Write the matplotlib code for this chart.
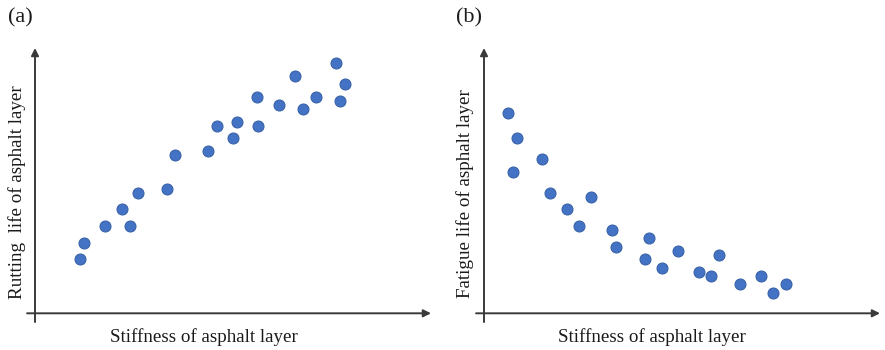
import matplotlib
matplotlib.use("Agg")
import matplotlib.pyplot as plt

# Panel (a): rutting life vs stiffness (arbitrary units)
rut_x = [1.14, 1.24, 1.77, 2.19, 2.40, 2.60, 3.33, 3.54, 4.37, 4.59, 5.01,
         5.11, 5.61, 5.62, 6.15, 6.56, 6.77, 7.09, 7.61, 7.82, 7.71]
rut_y = [2.04, 2.66, 3.29, 3.92, 3.29, 4.55, 4.70, 5.97, 6.12, 7.07, 6.61,
         7.22, 8.16, 7.07, 7.85, 8.96, 7.70, 8.16, 9.43, 8.64, 8.01]

# Panel (b): fatigue life vs stiffness (arbitrary units)
fat_x = [0.61, 0.83, 0.72, 1.46, 1.67, 2.70, 2.09, 2.39, 3.24, 3.33, 4.17,
         4.07, 4.49, 4.91, 5.43, 5.73, 5.94, 6.47, 6.99, 7.30, 7.62]
fat_y = [7.54, 6.60, 5.34, 5.80, 4.55, 4.40, 3.92, 3.29, 3.14, 2.51, 2.83,
         2.04, 1.72, 2.35, 1.56, 1.41, 2.19, 1.09, 1.41, 0.78, 1.09]

panel_tags = ["(a)", "(b)"]
x_labels = ["Stiffness of asphalt layer", "Stiffness of asphalt layer"]
y_labels = ["Rutting  life of asphalt layer", "Fatigue life of asphalt layer"]

W, H = 885, 350
fig = plt.figure(figsize=(W / 100, H / 100), dpi=100)
plt.rcParams['font.family'] = ['Liberation Serif', 'DejaVu Serif']

dot_face = '#4472C4'
dot_edge = '#3A63A8'
axis_col = '#3a3a3a'
text_col = '#1a1a1a'

panels = [
    dict(left=35, xs=rut_x, ys=rut_y, tag_x=8, lab_x=204, ylab_x=17, ylab_y=192),
    dict(left=484, xs=fat_x, ys=fat_y, tag_x=456, lab_x=652, ylab_x=465, ylab_y=194),
]

ax_bottom = 313.3
ax_top = 48
ax_w = 396

for i, p in enumerate(panels):
    ax = fig.add_axes([p['left'] / W, (H - ax_bottom) / H, ax_w / W, (ax_bottom - ax_top) / H])
    ax.set_xlim(0, 10)
    ax.set_ylim(0, 10)
    ax.axis('off')
    ax.scatter(p['xs'], p['ys'], s=62, c=dot_face, edgecolors=dot_edge,
               linewidths=0.8, zorder=3, clip_on=False)
    # axes arrows
    ax.annotate('', xy=(1.0, 0), xytext=(-0.02, 0), xycoords='axes fraction',
                arrowprops=dict(arrowstyle='-|>', color=axis_col, lw=1.4,
                                mutation_scale=11, shrinkA=0, shrinkB=0))
    ax.annotate('', xy=(0, 1.0), xytext=(0, -0.033), xycoords='axes fraction',
                arrowprops=dict(arrowstyle='-|>', color=axis_col, lw=1.4,
                                mutation_scale=11, shrinkA=0, shrinkB=0))
    fig.text(p['tag_x'] / W, 1 - 18 / H, panel_tags[i], fontsize=16,
             color=text_col, ha='left', va='center')
    fig.text(p['lab_x'] / W, 1 - 337 / H, x_labels[i], fontsize=13.7,
             color=text_col, ha='center', va='center')
    fig.text(p['ylab_x'] / W, 1 - p['ylab_y'] / H, y_labels[i], fontsize=13.7,
             color=text_col, ha='center', va='center', rotation=90)

fig.savefig('out.png', dpi=100, facecolor='white')
